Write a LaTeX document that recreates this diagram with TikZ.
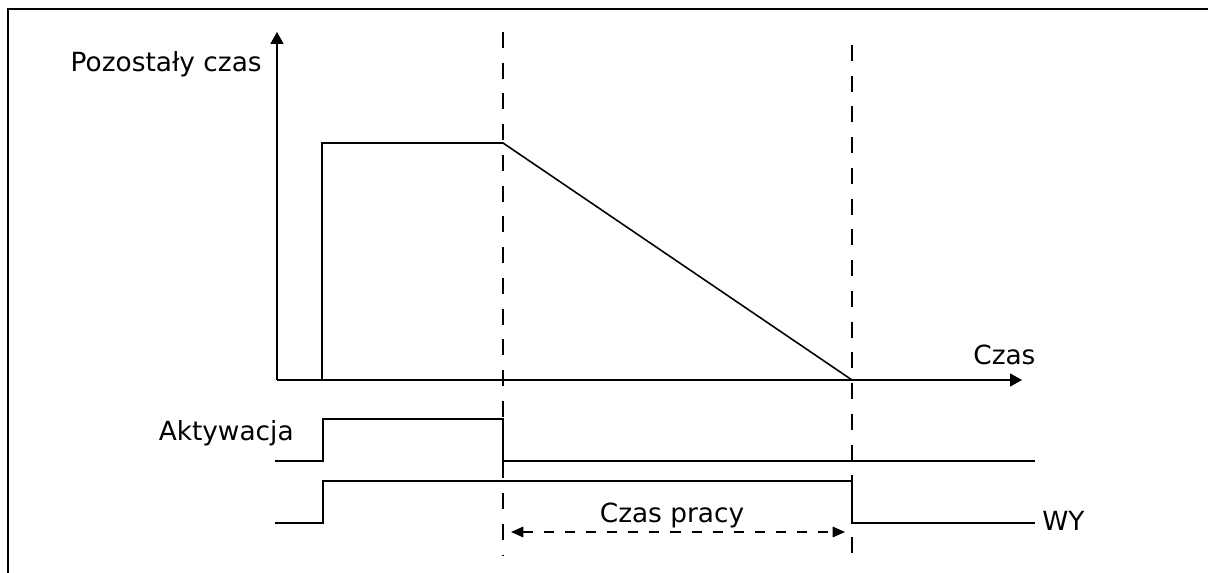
\documentclass[tikz,border=0pt]{standalone}
\usepackage{fontspec}
\setmainfont{DejaVu Sans}
\usetikzlibrary{arrows.meta}

\tikzset{
  sig/.style={line width=0.9pt},
  guide/.style={line width=0.9pt,dash pattern=on 9pt off 8.5pt},
  span/.style={line width=0.9pt,dash pattern=on 5.7pt off 6.3pt},
  tip/.style={-{Triangle[length=6.8pt,width=7.4pt]}},
  lbl/.style={inner sep=0pt,font=\fontsize{15}{18}\selectfont},
}

\begin{document}
\begin{tikzpicture}[x=0.02cm,y=-0.02cm]
\useasboundingbox (0,0) rectangle (1208,573);
% frame
\draw[line width=1.1pt] (8,573) -- (8,9) -- (1208,9);

% axes
\coordinate (O) at (277,380);
\coordinate (ytop) at (277,32);
\coordinate (xend) at (1022,380);
\draw[sig,tip] (O) -- (ytop);
\draw[sig,tip] (O) -- (xend);
\node[lbl,anchor=base east] (ylab) at (262,72) {Pozostały czas};
\node[lbl,anchor=base west] (xlab) at (973,365) {Czas};

% remaining time
\coordinate (r0) at (322,380);
\coordinate (r1) at (322,143);
\coordinate (r2) at (503,143);
\coordinate (r3) at (852,380);
\draw[sig] (r0) -- (r1) -- (r2) -- (r3);

% guides
\draw[guide] (503,32) -- (503,555);
\draw[guide] (852,45) -- (852,555);

% activation
\coordinate (a0) at (275,461);
\coordinate (a1) at (323,461);
\coordinate (a2) at (323,419);
\coordinate (a3) at (503,419);
\coordinate (a4) at (503,461);
\coordinate (a5) at (1035,461);
\draw[sig] (a0) -- (a1) -- (a2) -- (a3) -- (a4) -- (a5);
\node[lbl,anchor=base east] (alab) at (294,441) {Aktywacja};

% output
\coordinate (w0) at (275,523);
\coordinate (w1) at (323,523);
\coordinate (w2) at (323,481);
\coordinate (w3) at (852,481);
\coordinate (w4) at (852,523);
\coordinate (w5) at (1035,523);
\draw[sig] (w0) -- (w1) -- (w2) -- (w3) -- (w4) -- (w5);
\node[lbl,anchor=base west] (wlab) at (1042,531) {WY};

% run time
\coordinate (p0) at (511,532);
\coordinate (p1) at (845,532);
\draw[span,{Triangle[length=7pt,width=6pt]}-{Triangle[length=7pt,width=6pt]}] (p0) -- (p1);
\node[lbl,anchor=base] (plab) at (672,523) {Czas pracy};
\end{tikzpicture}
\end{document}
